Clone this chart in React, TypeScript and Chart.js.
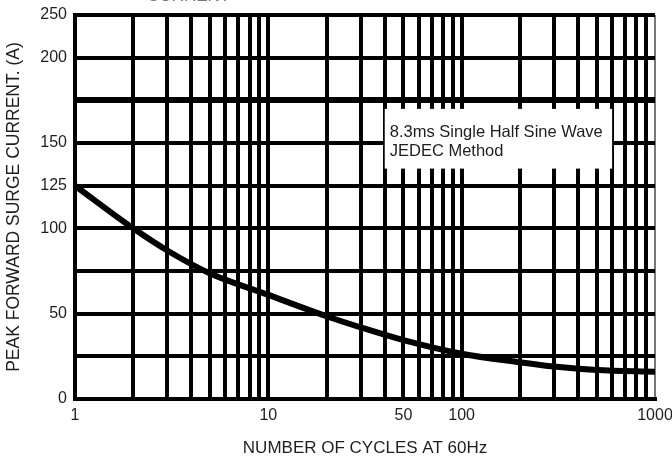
import React, { useEffect, useRef } from "react";
import { Chart, registerables } from "chart.js";

Chart.register(...registerables);

// Surge current curve (cycles at 60Hz -> peak forward surge current, A)
const cycles = [1, 2, 3, 5, 10, 20, 30, 50, 100, 200, 300, 500, 1000];
const surgeCurrent = [125, 100, 87, 73.5, 61, 48.5, 42, 34.5, 26.5, 21.5, 19, 17, 16];

// X axis (log) grid lines and labels
const xGridValues = [
  1, 2, 3, 4, 5, 6, 7, 8, 9,
  10, 20, 30, 40, 50, 60, 70, 80, 90,
  100, 200, 300, 400, 500, 600, 700, 800, 900, 1000,
];
const xLabelValues = [1, 10, 50, 100, 1000];

// Y axis grid lines and labels (as printed on the original chart)
const yGridValues = [0, 25, 50, 75, 100, 125, 150, 175, 200, 225];
const yTickLabels = ["0", "", "50", "", "100", "125", "150", "", "200", "250"];

const noteLines = ["8.3ms Single Half Sine Wave", "JEDEC Method"];
const noteBox = { x0: 40, x1: 600, yTop: 170, yBottom: 135 };
const clippedTitle = "CURRENT";

const FONT = "'Liberation Sans', Arial, Helvetica, sans-serif";
const TEXT = "#1e1e1e";

const notePlugin = {
  id: "notePlugin",
  afterDatasetsDraw(chart: any) {
    const { ctx, scales } = chart;
    const x = scales.x;
    const y = scales.y;
    const l = x.getPixelForValue(noteBox.x0);
    const r = x.getPixelForValue(noteBox.x1);
    const t = y.getPixelForValue(noteBox.yTop);
    const b = y.getPixelForValue(noteBox.yBottom);
    ctx.save();
    ctx.fillStyle = "#ffffff";
    ctx.fillRect(l, t, r - l, b - t);
    ctx.fillStyle = TEXT;
    ctx.font = `16.5px ${FONT}`;
    ctx.textAlign = "left";
    ctx.textBaseline = "alphabetic";
    ctx.fillText(noteLines[0], l + 5, t + 28);
    ctx.fillText(noteLines[1], l + 5, t + 47.5);
    // clipped heading at the very top of the original picture
    ctx.textAlign = "center";
    ctx.fillStyle = "#777";
    ctx.font = `17px ${FONT}`;
    ctx.fillText(clippedTitle, (chart.chartArea.left + x.getPixelForValue(10)) / 2 + 17, 1);
    ctx.restore();
  },
};

export default function App() {
  const ref = useRef<HTMLCanvasElement | null>(null);

  useEffect(() => {
    document.body.style.margin = "0";
    const canvas = ref.current;
    if (!canvas) return;
    const chart = new Chart(canvas, {
      type: "line",
      data: {
        datasets: [
          {
            data: cycles.map((c, i) => ({ x: c, y: surgeCurrent[i] })),
            borderColor: "#000000",
            borderWidth: 6,
            pointRadius: 0,
            cubicInterpolationMode: "monotone",
            fill: false,
          },
        ],
      },
      options: {
        animation: false,
        responsive: true,
        maintainAspectRatio: false,
        layout: { padding: { top: 15, right: 17, bottom: 0, left: 0 } },
        plugins: {
          legend: { display: false },
          tooltip: { enabled: false },
        },
        scales: {
          x: {
            type: "logarithmic",
            min: 1,
            max: 1000,
            afterBuildTicks: (scale: any) => {
              scale.ticks = xGridValues.map((v) => ({ value: v, major: false }));
            },
            afterFit: (scale: any) => {
              scale.height = 60;
              scale.paddingLeft = 0;
              scale.paddingRight = 0;
            },
            grid: {
              color: (ctx: any) => (ctx.tick && ctx.tick.value === 1000 ? "#777" : "#000"),
              lineWidth: (ctx: any) => (ctx.tick && ctx.tick.value === 1000 ? 2 : 4),
              drawTicks: false,
            },
            border: { display: true, color: "#000", width: 4 },
            ticks: {
              autoSkip: false,
              maxRotation: 0,
              padding: 7,
              color: TEXT,
              font: { family: FONT, size: 16 },
              callback: (value: any) => (xLabelValues.includes(Number(value)) ? String(value) : ""),
            },
            title: {
              display: true,
              text: "NUMBER OF CYCLES AT 60Hz",
              color: TEXT,
              font: { family: FONT, size: 17 },
              padding: { top: 0, bottom: 0 },
            },
          },
          y: {
            type: "linear",
            min: 0,
            max: 225,
            afterBuildTicks: (scale: any) => {
              scale.ticks = yGridValues.map((v) => ({ value: v }));
            },
            afterFit: (scale: any) => {
              scale.width = 75;
              scale.paddingTop = 0;
              scale.paddingBottom = 0;
            },
            grid: {
              color: "#000",
              lineWidth: (ctx: any) => (ctx.tick && ctx.tick.value === 175 ? 6 : 4),
              drawTicks: false,
            },
            border: { display: true, color: "#000", width: 4 },
            ticks: {
              autoSkip: false,
              padding: 8,
              color: TEXT,
              font: { family: FONT, size: 16 },
              callback: (value: any) => {
                const i = yGridValues.indexOf(Number(value));
                return i >= 0 ? yTickLabels[i] : "";
              },
            },
            title: {
              display: true,
              text: "PEAK FORWARD SURGE CURRENT. (A)",
              color: TEXT,
              font: { family: FONT, size: 17.5 },
              padding: { top: 4, bottom: 0 },
            },
          },
        },
      } as any,
      plugins: [notePlugin],
    });
    return () => chart.destroy();
  }, []);

  return (
    <div style={{ position: "relative", width: "672px", height: "459px" }}>
      <canvas ref={ref} />
    </div>
  );
}
